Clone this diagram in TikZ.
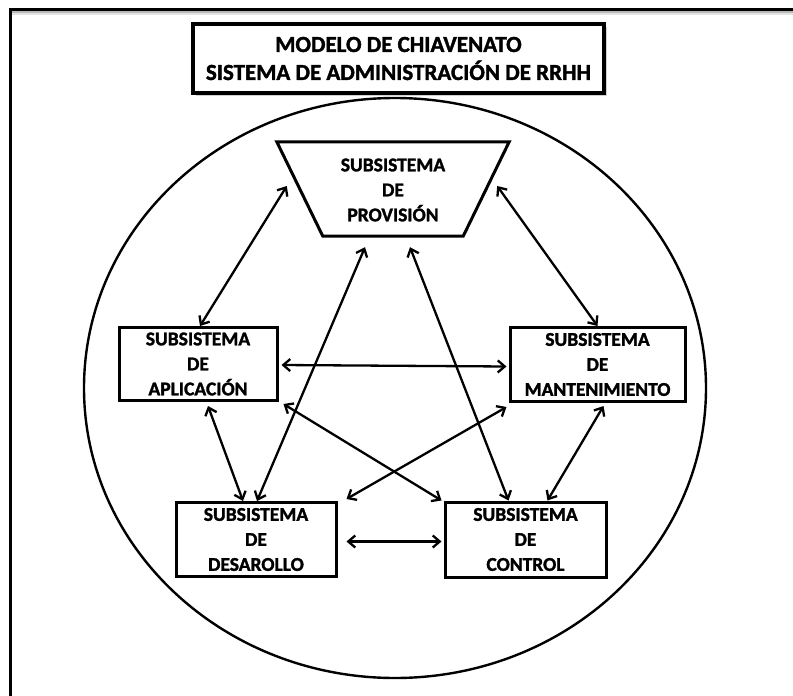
\documentclass[tikz,border=0pt]{standalone}
\usepackage{fontspec}
\setmainfont{Carlito}[BoldFeatures={FakeBold=1.6}]
\usetikzlibrary{arrows.meta,calc}
\tikzset{
  subbox/.style={draw, line width=3pt, align=center, inner sep=0pt,
    font=\fontsize{19.5}{25}\selectfont\bfseries},
  link/.style={line width=2.3pt, {Straight Barb[length=7pt,width=12pt]}-{Straight Barb[length=7pt,width=12pt]}},
}
\begin{document}
\begin{tikzpicture}[x=1pt,y=-1pt]
\useasboundingbox (0,0) rectangle (793,696);
% page frame
\fill[gray!55] (11,10.5) rectangle (793,13);
\fill[gray!22] (11,13) rectangle (793,15);
\draw[line width=2.2pt] (10.5,696) -- (10.5,9.5) -- (793,9.5);
% outer ellipse
\draw[line width=2.4pt] (395,388) ellipse [x radius=311, y radius=290];
% title
\fill[gray!35] (196,27) rectangle (607,96);
\node[draw, fill=white, line width=3.4pt, minimum width=411pt, minimum height=69pt, inner sep=0pt,
  align=center, font=\fontsize{23}{28}\selectfont\bfseries] (title) at (398.5,58.5)
  {MODELO DE CHIAVENATO\\SISTEMA DE ADMINISTRACIÓN DE RRHH};
% provision (inverted trapezoid)
\node[minimum width=232pt, minimum height=94pt, inner sep=0pt] (prov) at (393,189) {};
\draw[line width=3pt, line join=miter] (prov.north west) -- (prov.north east)
  -- ($(prov.south east)+(-46,0)$) -- ($(prov.south west)+(46,0)$) -- cycle;
\node[align=center, font=\fontsize{19.5}{25}\selectfont\bfseries] (provtext) at (393,190)
  {SUBSISTEMA\\DE\\PROVISIÓN};
% boxes
\node[subbox, minimum width=158pt, minimum height=73pt] (apl) at (198,364) {SUBSISTEMA\\DE\\APLICACIÓN};
\node[subbox, minimum width=175pt, minimum height=74pt] (man) at (597.5,364.5) {SUBSISTEMA\\DE\\MANTENIMIENTO};
\node[subbox, minimum width=160pt, minimum height=74pt] (des) at (256,539.5) {SUBSISTEMA\\DE\\DESAROLLO};
\node[subbox, minimum width=161pt, minimum height=75pt] (con) at (525.5,539.5) {SUBSISTEMA\\DE\\CONTROL};
% connectors
\draw[link] ($(prov.west)+(10,-3)$) -- ($(apl.north)+(2,0)$);
\draw[link] ($(prov.east)+(-12,-3)$) -- (man.north);
\draw[link] ($(apl.east)+(3,1)$) -- ($(man.west)+(-2,2)$);
\draw[link] ($(apl.south)+(10,4)$) -- ($(des.north)+(-13,0)$);
\draw[link] ($(prov.south)+(-28,11)$) -- ($(des.north)+(1,0)$);
\draw[link] ($(prov.south)+(17,11)$) -- ($(con.north)+(-17,0)$);
\draw[link] ($(apl.south east)+(5,2)$) -- ($(con.north west)+(-2,0)$);
\draw[link] ($(man.south west)+(-2,4)$) -- ($(des.north east)+(9,-2)$);
\draw[link] ($(man.south)+(6,3)$) -- ($(con.north)+(22,0)$);
\draw[link] ($(des.east)+(9,2)$) -- ($(con.west)+(-2,2)$);
\end{tikzpicture}
\end{document}
